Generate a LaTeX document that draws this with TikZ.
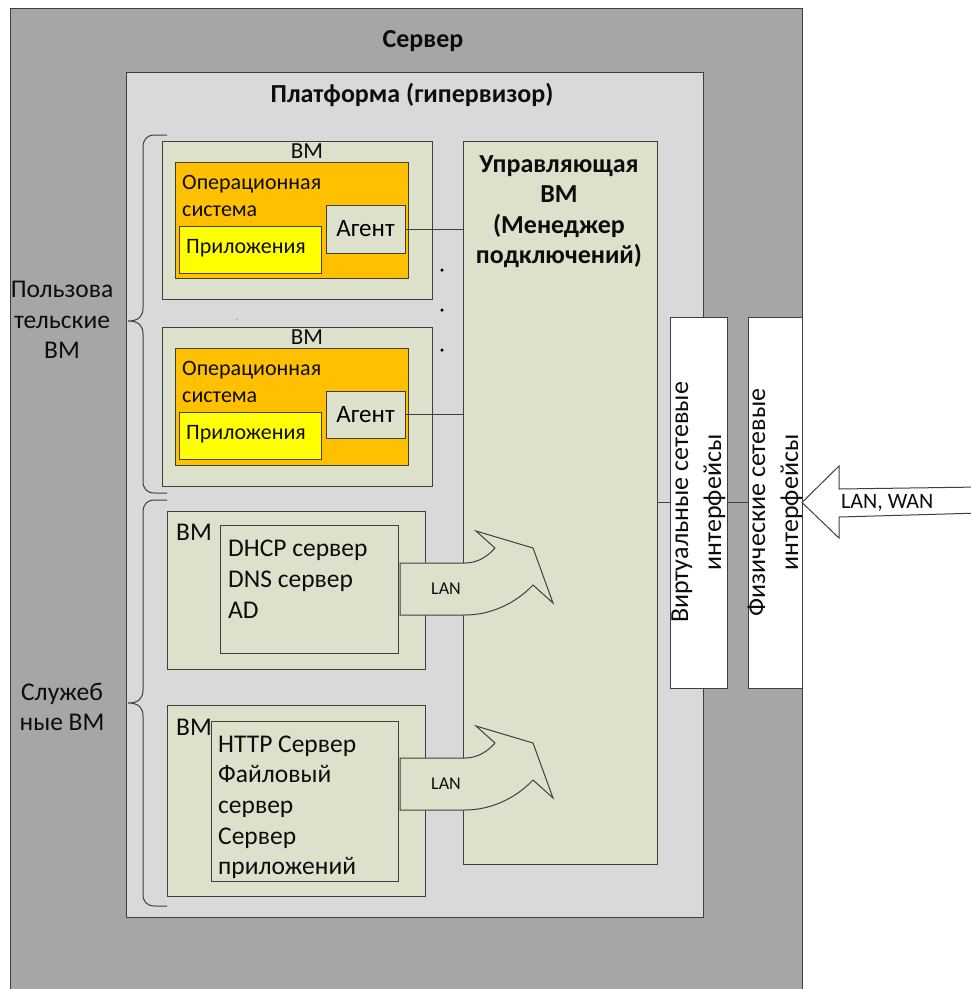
\documentclass[tikz,border=0pt]{standalone}
\usepackage{fontspec}
\setmainfont{Carlito}
\definecolor{servc}{HTML}{A6A6A6}
\definecolor{platc}{HTML}{D9D9D9}
\definecolor{vmc}{HTML}{DDE1CB}
\definecolor{osc}{HTML}{FFC000}
\definecolor{appc}{HTML}{FFFF00}
\definecolor{edgec}{HTML}{3F3F3F}
\newcommand\mainsz{\fontsize{23}{30.5}\selectfont}
\newcommand\ossz{\fontsize{22}{27}\selectfont}
\newcommand\svcsz{\fontsize{25.5}{30.5}\selectfont}
\newcommand\boldsz{\fontsize{26}{30.5}\selectfont\bfseries}
\newcommand\vertsz{\fontsize{26}{33}\selectfont}
\tikzset{
  box/.style={draw=edgec, line width=1pt, anchor=north west, inner sep=0pt, outer sep=0pt},
  txt/.style={inner sep=0pt, anchor=base west, font=\mainsz, text=black!95},
  ctxt/.style={inner sep=0pt, anchor=base, font=\mainsz, text=black!95},
  btxt/.style={inner sep=0pt, anchor=base, font=\boldsz, text=black!95},
  wire/.style={draw=edgec, line width=1pt},
  dotc/.style={circle, fill=black, inner sep=0pt, minimum size=3.5pt},
  bracec/.style={draw=edgec, line width=1pt},
  lanarrow/.pic={
    \draw[draw=edgec, line width=1pt, fill=vmc]
      (0,0) -- (65,0) .. controls (78,0) and (88,-7) .. (95,-15)
      -- (76,-32) -- (133,-15) -- (153,40) -- (133,22)
      .. controls (115,41) and (90,52) .. (65,52) -- (0,52) -- cycle;
    \node[inner sep=0pt, font=\fontsize{18}{20}\selectfont, text=black!95] (-txt) at (46,26) {LAN};
  }
}
\begin{document}
\begin{tikzpicture}[x=1pt, y=-1pt]
\useasboundingbox (0,0) rectangle (971,989);
\clip (0,0) rectangle (971,989);
\fill[white] (0,0) rectangle (971,989);

% server and platform
\node[box, fill=servc, minimum width=792, minimum height=1000] (server) at (10,8) {};
\node[btxt] (servert) at (423,47) {Сервер};
\node[box, fill=platc, minimum width=577, minimum height=845] (plat) at (126,72) {};
\node[btxt] (platt) at (412,102) {Платформа (гипервизор)};

% user VM 1
\node[box, fill=vmc, minimum width=270, minimum height=158] (vm1) at (162,141) {};
\node[ctxt] (vm1t) at (307,158) {ВМ};
\node[box, fill=osc, minimum width=233, minimum height=116] (os1) at (175,162) {};
\node[txt, font=\ossz] (os1a) at (182,189) {Операционная};
\node[txt, font=\ossz] (os1b) at (182,216) {система};
\node[box, fill=appc, minimum width=142, minimum height=47] (app1) at (179,226) {};
\node[txt, font=\ossz] (app1t) at (186,253) {Приложения};
\node[box, fill=vmc, minimum width=79, minimum height=48, font=\fontsize{25}{30}\selectfont] (agent1) at (326,205) {Агент};

% user VM 2
\node[box, fill=vmc, minimum width=270, minimum height=159] (vm2) at (162,327) {};
\node[ctxt] (vm2t) at (307,344) {ВМ};
\node[box, fill=osc, minimum width=233, minimum height=117] (os2) at (175,348) {};
\node[txt, font=\ossz] (os2a) at (182,375) {Операционная};
\node[txt, font=\ossz] (os2b) at (182,402) {система};
\node[box, fill=appc, minimum width=142, minimum height=47] (app2) at (179,412) {};
\node[txt, font=\ossz] (app2t) at (186,439) {Приложения};
\node[box, fill=vmc, minimum width=79, minimum height=47, font=\fontsize{25}{30}\selectfont] (agent2) at (326,391) {Агент};

% dots
\node[dotc] (d1) at (442,270) {};
\node[dotc] (d2) at (442,310) {};
\node[dotc] (d3) at (442,350) {};
\node[circle, fill=black!45, inner sep=0pt, minimum size=1.5pt] (d0) at (237,319) {};

% service VM 1
\node[box, fill=vmc, minimum width=258, minimum height=158] (vm3) at (167,511) {};
\node[txt, font=\svcsz] (vm3t) at (176,540) {ВМ};
\node[box, fill=vmc, minimum width=178, minimum height=128] (in3) at (220,525) {};
\node[txt, font=\svcsz] (in3a) at (228,556) {DHCP сервер};
\node[txt, font=\svcsz] (in3b) at (228,587) {DNS сервер};
\node[txt, font=\svcsz] (in3c) at (228,618) {AD};

% service VM 2
\node[box, fill=vmc, minimum width=258, minimum height=191] (vm4) at (167,705) {};
\node[txt, font=\svcsz] (vm4t) at (176,735) {ВМ};
\node[box, fill=vmc, minimum width=187, minimum height=160] (in4) at (211,721) {};
\node[txt, font=\svcsz] (in4a) at (218,752) {HTTP Сервер};
\node[txt, font=\svcsz] (in4b) at (218,782) {Файловый};
\node[txt, font=\svcsz] (in4c) at (218,813) {сервер};
\node[txt, font=\svcsz] (in4d) at (218,844) {Сервер};
\node[txt, font=\svcsz] (in4e) at (218,874) {приложений};

% management VM
\node[box, fill=vmc, minimum width=194, minimum height=723] (mgmt) at (463,141) {};
\node[btxt] (mgmta) at (559,172) {Управляющая};
\node[btxt] (mgmtb) at (559,202) {ВМ};
\node[btxt] (mgmtc) at (559,233) {(Менеджер};
\node[btxt] (mgmtd) at (559,263) {подключений)};

% network interfaces
\node[box, fill=white, minimum width=57, minimum height=371] (vnic) at (670,317) {};
\node[inner sep=0pt, rotate=90, align=center, font=\vertsz, text=black!95] (vnict) at (vnic.center) {Виртуальные сетевые\\интерфейсы};
\node[box, fill=white, minimum width=54, minimum height=371] (pnic) at (748,317) {};
\node[inner sep=0pt, rotate=90, align=center, font=\vertsz, text=black!95] (pnict) at (pnic.center) {Физические сетевые\\интерфейсы};

% LAN arrows
\pic (lan1) at (400,563) {lanarrow};
\pic (lan2) at (400,758) {lanarrow};

% connectors
\draw[wire] (agent1.east) -- (agent1.east -| mgmt.west);
\draw[wire] (agent2.east) -- (agent2.east -| mgmt.west);
\draw[wire] (vnic.west -| mgmt.east) -- (vnic.west);
\draw[wire] (vnic.east) -- (pnic.west);

% LAN, WAN arrow
\coordinate (wanend) at (980,500);
\draw[draw=edgec, line width=1pt, fill=white]
  (pnic.east) -- (839,466) -- (839,489) -- (wanend |- 0,487) -- (wanend |- 0,513)
  -- (839,517) -- (839,538) -- cycle;
\node[txt, font=\fontsize{22}{24}\selectfont] (want) at (841,508) {LAN, WAN};

% braces
\draw[bracec] (167,135) -- (155,135) .. controls (147,135) and (143,139) .. (143,148)
  -- (143,308) .. controls (143,316) and (139,321) .. (128,321)
  .. controls (139,321) and (143,326) .. (143,334)
  -- (143,481) .. controls (143,489) and (147,493) .. (155,493) -- (167,493);
\draw[bracec] (167,500) -- (155,500) .. controls (147,500) and (143,504) .. (143,513)
  -- (143,690) .. controls (143,698) and (139,703) .. (128,703)
  .. controls (139,703) and (143,708) .. (143,716)
  -- (143,894) .. controls (143,902) and (147,906) .. (155,906) -- (167,906);
\node[ctxt, font=\svcsz] (usera) at (62,297) {Пользова};
\node[ctxt, font=\svcsz] (userb) at (62,328) {тельские};
\node[ctxt, font=\svcsz] (userc) at (62,358) {ВМ};
\node[ctxt, font=\svcsz] (serva) at (62,700) {Служеб};
\node[ctxt, font=\svcsz] (servb) at (62,730) {ные ВМ};
\end{tikzpicture}
\end{document}
